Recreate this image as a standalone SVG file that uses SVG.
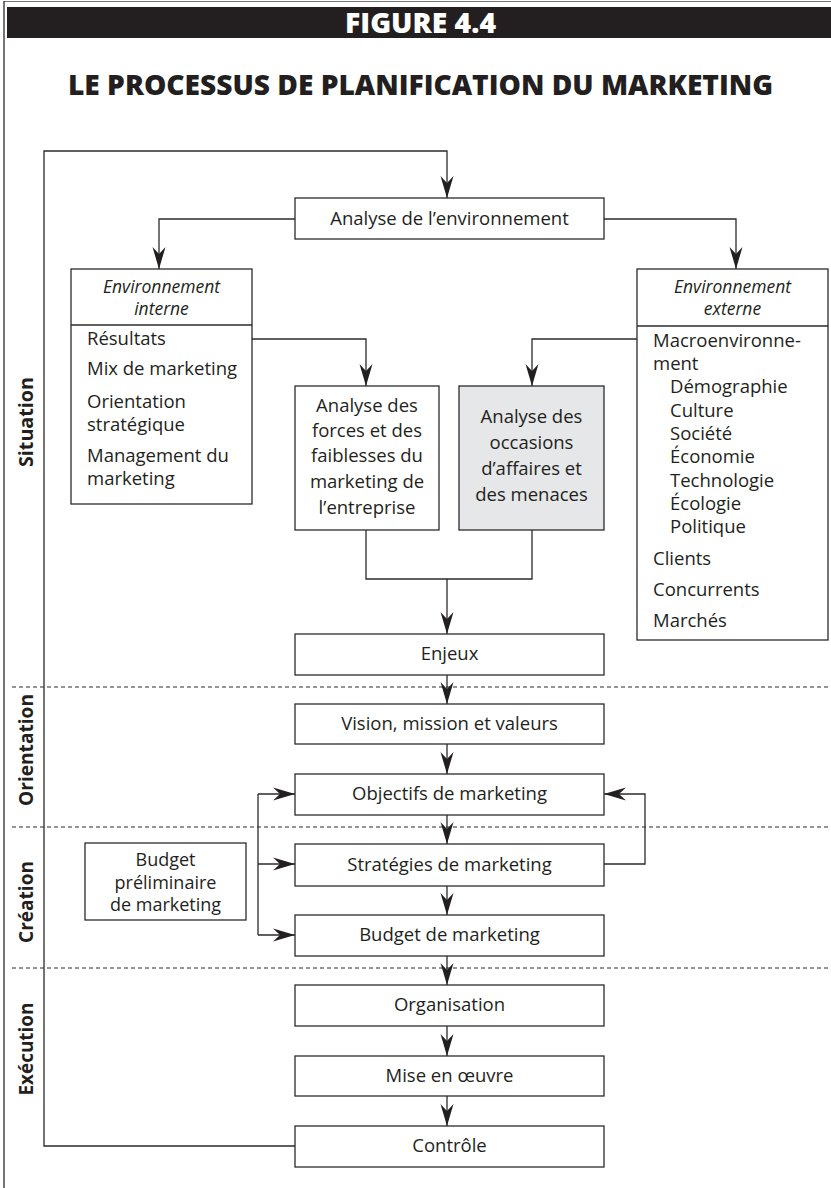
<svg xmlns="http://www.w3.org/2000/svg" width="831" height="1188" viewBox="0 0 831 1188">
<style>
  .box{fill:#ffffff;stroke:#2b2b2b;stroke-width:1.3}
  .grey{fill:#e6e7e8}
  .t{font-family:"Open Sans","Liberation Sans",sans-serif;font-size:18.5px;fill:#231f20}
  .c{text-anchor:middle}
  .i{font-style:italic;font-size:17.5px}
  .s{font-size:18px}
  .lab{font-family:"Open Sans","Liberation Sans",sans-serif;font-size:19px;font-weight:bold;fill:#231f20;text-anchor:middle}
  .ln{fill:none;stroke:#2b2b2b;stroke-width:1.3}
  .arr{fill:none;stroke:#2b2b2b;stroke-width:1.3;marker-end:url(#ah)}
  .dash{fill:none;stroke:#2b2b2b;stroke-width:1;stroke-dasharray:4 3}
</style>
<defs>
  <marker id="ah" viewBox="-23 -7 24 14" refX="0" refY="0" markerWidth="24" markerHeight="14" markerUnits="userSpaceOnUse" orient="auto">
    <path d="M0,0 L-22,-6.5 L-15,0 L-22,6.5 Z" fill="#231f20"/>
  </marker>
</defs>
<rect x="0" y="0" width="831" height="1188" fill="#ffffff"/>

<g id="frame">
  <line x1="4" y1="1.5" x2="831" y2="1.5" stroke="#777" stroke-width="1"/>
  <line x1="4" y1="1" x2="4" y2="1188" stroke="#2b2b2b" stroke-width="1.3"/>
  <rect x="7" y="7" width="824" height="31" fill="#231f20"/>
  <text x="420.5" y="33" text-anchor="middle" font-family="'Open Sans','Liberation Sans',sans-serif" font-size="28" font-weight="800" fill="#ffffff" textLength="151" lengthAdjust="spacingAndGlyphs">FIGURE 4.4</text>
  <text x="420.5" y="95" text-anchor="middle" font-family="'Open Sans','Liberation Sans',sans-serif" font-size="28" font-weight="800" fill="#231f20" textLength="705" lengthAdjust="spacingAndGlyphs">LE PROCESSUS DE PLANIFICATION DU MARKETING</text>
</g>

<g id="phases">
  <line class="dash" x1="12" y1="687" x2="831" y2="687"/>
  <line class="dash" x1="12" y1="827" x2="831" y2="827"/>
  <line class="dash" x1="12" y1="968" x2="831" y2="968"/>
  <text class="lab" transform="translate(33,422) rotate(-90)" textLength="90" lengthAdjust="spacingAndGlyphs">Situation</text>
  <text class="lab" transform="translate(33,750) rotate(-90)" textLength="112" lengthAdjust="spacingAndGlyphs">Orientation</text>
  <text class="lab" transform="translate(33,902) rotate(-90)" textLength="82" lengthAdjust="spacingAndGlyphs">Création</text>
  <text class="lab" transform="translate(33,1049) rotate(-90)" textLength="93" lengthAdjust="spacingAndGlyphs">Exécution</text>
</g>

<g id="connectors">
  <path class="arr" d="M295,1146 H44 V151 H447 V198"/>
  <path class="arr" d="M295,219 H159 V269"/>
  <path class="arr" d="M604,219 H736 V269"/>
  <path class="arr" d="M252,339 H366 V386"/>
  <path class="arr" d="M637,339 H532 V386"/>
  <path class="ln" d="M366,530 V579 H532 V530"/>
  <path class="arr" d="M447,579 V634"/>
  <path class="arr" d="M447,675 V704"/>
  <path class="arr" d="M447,744 V774"/>
  <path class="arr" d="M447,815 V844"/>
  <path class="arr" d="M447,886 V915"/>
  <path class="arr" d="M447,956 V985"/>
  <path class="arr" d="M447,1026 V1056"/>
  <path class="arr" d="M447,1096 V1126"/>
  <path class="ln" d="M258,794 V935"/>
  <path class="arr" d="M258,794 H295"/>
  <path class="arr" d="M258,864 H295"/>
  <path class="arr" d="M258,935 H295"/>
  <path class="arr" d="M604,864 H645 V794 H604"/>
</g>

<g id="analyse-env">
  <rect class="box" x="295" y="198" width="309" height="41"/>
  <text class="t c" x="449.5" y="225">Analyse de l’environnement</text>
</g>

<g id="env-interne">
  <rect class="box" x="71" y="269" width="181" height="235"/>
  <line class="ln" x1="71" y1="325" x2="252" y2="325"/>
  <text class="t c i" x="161.5" y="293">Environnement</text>
  <text class="t c i" x="161.5" y="315">interne</text>
  <text class="t" x="87" y="345">Résultats</text>
  <text class="t" x="87" y="375">Mix de marketing</text>
  <text class="t" x="87" y="408">Orientation</text>
  <text class="t" x="87" y="431">stratégique</text>
  <text class="t" x="87" y="462">Management du</text>
  <text class="t" x="87" y="485">marketing</text>
</g>

<g id="env-externe">
  <rect class="box" x="637" y="269" width="191" height="371"/>
  <line class="ln" x1="637" y1="326" x2="828" y2="326"/>
  <text class="t c i" x="732.5" y="293">Environnement</text>
  <text class="t c i" x="732.5" y="315">externe</text>
  <text class="t" x="653" y="347">Macroenvironne-</text>
  <text class="t" x="653" y="370">ment</text>
  <text class="t" x="670" y="393">Démographie</text>
  <text class="t" x="670" y="417">Culture</text>
  <text class="t" x="670" y="440">Société</text>
  <text class="t" x="670" y="463">Économie</text>
  <text class="t" x="670" y="487">Technologie</text>
  <text class="t" x="670" y="510">Écologie</text>
  <text class="t" x="670" y="533">Politique</text>
  <text class="t" x="653" y="565">Clients</text>
  <text class="t" x="653" y="596">Concurrents</text>
  <text class="t" x="653" y="627">Marchés</text>
</g>

<g id="forces">
  <rect class="box" x="295" y="386" width="144" height="144"/>
  <text class="t c" x="367" y="412">Analyse des</text>
  <text class="t c" x="367" y="437">forces et des</text>
  <text class="t c" x="367" y="462">faiblesses du</text>
  <text class="t c" x="367" y="488">marketing de</text>
  <text class="t c" x="367" y="514">l’entreprise</text>
</g>

<g id="occasions">
  <rect class="box grey" x="459" y="386" width="145" height="144"/>
  <text class="t c" x="531.5" y="423">Analyse des</text>
  <text class="t c" x="531.5" y="449">occasions</text>
  <text class="t c" x="531.5" y="475">d’affaires et</text>
  <text class="t c" x="531.5" y="501">des menaces</text>
</g>

<g id="enjeux">
  <rect class="box" x="295" y="634" width="309" height="41"/>
  <text class="t c" x="449.5" y="660">Enjeux</text>
</g>

<g id="vision">
  <rect class="box" x="295" y="704" width="309" height="40"/>
  <text class="t c" x="449.5" y="730">Vision, mission et valeurs</text>
</g>

<g id="objectifs">
  <rect class="box" x="295" y="774" width="309" height="41"/>
  <text class="t c" x="449.5" y="800">Objectifs de marketing</text>
</g>

<g id="strategies">
  <rect class="box" x="295" y="844" width="309" height="42"/>
  <text class="t c" x="449.5" y="871">Stratégies de marketing</text>
</g>

<g id="budget-prelim">
  <rect class="box" x="85" y="843" width="161" height="77"/>
  <text class="t c s" x="165.5" y="866">Budget</text>
  <text class="t c s" x="165.5" y="889">préliminaire</text>
  <text class="t c s" x="165.5" y="911">de marketing</text>
</g>

<g id="budget">
  <rect class="box" x="295" y="915" width="309" height="41"/>
  <text class="t c" x="449.5" y="941">Budget de marketing</text>
</g>

<g id="organisation">
  <rect class="box" x="295" y="985" width="309" height="41"/>
  <text class="t c" x="449.5" y="1011">Organisation</text>
</g>

<g id="mise">
  <rect class="box" x="295" y="1056" width="309" height="40"/>
  <text class="t c" x="449.5" y="1082">Mise en œuvre</text>
</g>

<g id="controle">
  <rect class="box" x="295" y="1126" width="309" height="41"/>
  <text class="t c" x="449.5" y="1152">Contrôle</text>
</g>
</svg>
